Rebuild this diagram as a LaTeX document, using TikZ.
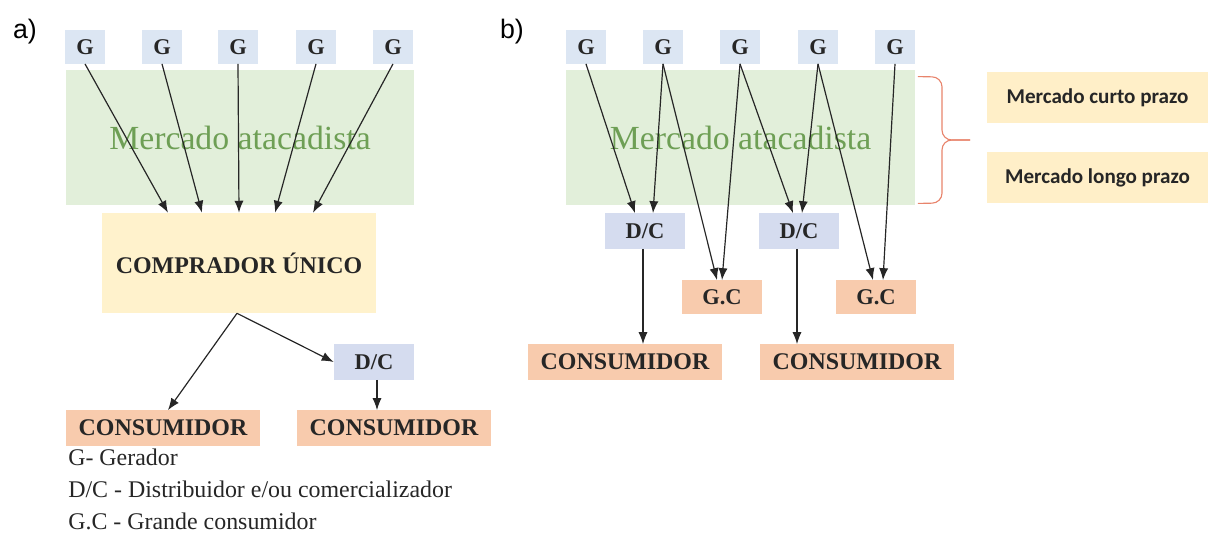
\documentclass[tikz,border=0pt]{standalone}
\usepackage{fontspec}
\setmainfont{Liberation Serif}
\newfontfamily\calfont{Carlito}
\newfontfamily\arialfont{Liberation Sans}
\usepackage{xcolor}
\usetikzlibrary{arrows.meta, positioning, calc}

\definecolor{gblue}{HTML}{DCE6F3}
\definecolor{dcblue}{HTML}{D5DCEF}
\definecolor{mkgreen}{HTML}{E2EFDA}
\definecolor{mktext}{HTML}{6E9F55}
\definecolor{cpyellow}{HTML}{FFF2CC}
\definecolor{rtyellow}{HTML}{FFEFC8}
\definecolor{salmon}{HTML}{F8CBAD}
\definecolor{bracered}{HTML}{E8846C}
\definecolor{ink}{HTML}{262626}

\begin{document}
\begin{tikzpicture}[
  x=0.025cm, y=-0.025cm,
  >={Latex[length=8.5pt,width=6.5pt]},
  box/.style={fill=#1, inner sep=0pt, align=center, text=ink,
              font=\fontsize{16}{19}\selectfont\bfseries},
  gen/.style={box=gblue, minimum width=1.0cm, minimum height=0.83cm},
  dc/.style={box=dcblue, minimum width=2.0cm, minimum height=0.88cm},
  gc/.style={box=salmon, minimum width=2.0cm, minimum height=0.83cm},
  cons/.style={box=salmon, minimum width=4.85cm, minimum height=0.88cm,
               font=\fontsize{17}{20}\selectfont\bfseries},
  market/.style={fill=mkgreen, inner sep=0pt, minimum width=8.7cm,
                 minimum height=3.38cm, text=mktext,
                 font=\fontsize{24}{28}\selectfont},
  term/.style={box=rtyellow, minimum width=5.53cm, minimum height=1.28cm,
               font=\calfont\fontsize{15}{18}\selectfont\bfseries},
  arr/.style={->, line width=0.85pt, color=ink},
  legend/.style={anchor=base west, inner sep=0pt, text=ink,
                 font=\fontsize{17}{20}\selectfont},
  tag/.style={inner sep=0pt, font=\arialfont\fontsize{19}{22}\selectfont},
]
\useasboundingbox (0,0) rectangle (1208,534);

%% ---------- Part a: single buyer ---------------------------------
\node[tag] (taga) at (25,32) {a)};
\node[market] (mka) at (240,137.5) {Mercado atacadista};
\foreach \i/\x in {1/85, 2/162, 3/238, 4/316, 5/393}
  \node[gen] (ga\i) at (\x,47) {G};

\node[box=cpyellow, minimum width=6.83cm, minimum height=2.5cm,
      font=\fontsize{17}{20}\selectfont\bfseries] (comp) at (239,263)
      {COMPRADOR ÚNICO};
\node[dc]   (dca)   at (374,362) {D/C};
\node[cons] (cona1) at (163,428) {CONSUMIDOR};
\node[cons] (cona2) at (394,428) {CONSUMIDOR};

%% legend
\node[legend] (leg1) at (68,465) {G- Gerador};
\node[legend] (leg2) at (68,497) {D/C - Distribuidor e/ou comercializador};
\node[legend] (leg3) at (68,529) {G.C - Grande consumidor};

%% ---- Arrows a ---------------------------------------------------
\foreach \i/\dx in {1/-71, 2/-37, 3/0, 4/36, 5/74}
  \draw[arr] (ga\i.south) -- ($(comp.north)+(\dx,0)$);
\draw[arr] ($(comp.south)+(-2,0)$) -- ($(cona1.north)+(5,0)$);
\draw[arr] ($(comp.south)+(-2,0)$) -- (dca.west);
\draw[arr] ([xshift=0.075cm]dca.south) -- ([xshift=0.075cm]dca.south |- cona2.north);

%% ---------- Part b: competitive market ---------------------------
\node[tag] (tagb) at (512,32) {b)};
\node[market] (mkb) at (740.5,137.5) {Mercado atacadista};
\foreach \i/\x in {1/586, 2/663, 3/740, 4/818, 5/895}
  \node[gen] (gb\i) at (\x,47) {G};

\node[dc]   (dcb1)  at (645,231) {D/C};
\node[dc]   (dcb2)  at (799,231) {D/C};
\node[gc]   (gcb1)  at (722,297) {G.C};
\node[gc]   (gcb2)  at (876,297) {G.C};
\node[cons] (conb1) at (625,362) {CONSUMIDOR};
\node[cons] (conb2) at (857,362) {CONSUMIDOR};

%% short / long term
\node[term] (curto) at (1097.5,97.5)  {Mercado curto prazo};
\node[term] (longo) at (1097.5,177.5) {Mercado longo prazo};

%% ---- Arrows b ---------------------------------------------------
\draw[arr] (gb1.south) -- ($(dcb1.north)+(-10,0)$);
\draw[arr] (gb2.south) -- ($(dcb1.north)+(8,0)$);
\draw[arr] (gb2.south) -- ($(gcb1.north)+(-5,0)$);
\draw[arr] (gb3.south) -- (gcb1.north);
\draw[arr] (gb3.south) -- ($(dcb2.north)+(-6,0)$);
\draw[arr] (gb4.south) -- ($(dcb2.north)+(3,0)$);
\draw[arr] (gb4.south) -- ($(gcb2.north)+(-3,0)$);
\draw[arr] (gb5.south) -- ($(gcb2.north)+(7,0)$);
\draw[arr] ([xshift=-0.05cm]dcb1.south) -- ([xshift=-0.05cm]dcb1.south |- conb1.north);
\draw[arr] ([xshift=-0.05cm]dcb2.south) -- ([xshift=-0.05cm]dcb2.south |- conb2.north);

%% brace
\draw[bracered, line width=0.8pt, rounded corners=7]
  ($(mkb.north east)+(3,7)$) -- (942,77) -- (942,140) -- (970,140);
\draw[bracered, line width=0.8pt, rounded corners=7]
  ($(mkb.south east)+(3,-2)$) -- (942,203) -- (942,140) -- (970,140);
\end{tikzpicture}
\end{document}
